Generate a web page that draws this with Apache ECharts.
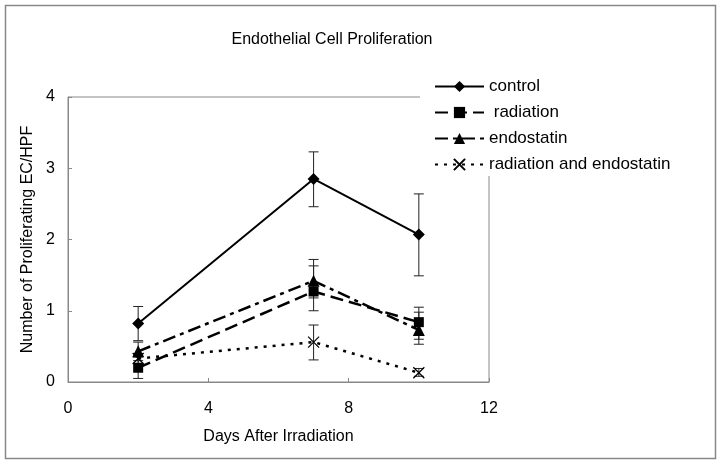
<!DOCTYPE html>
<html>
<head>
<meta charset="utf-8">
<script src="https://cdn.jsdelivr.net/npm/echarts@6/dist/echarts.min.js"></script>
<style>html,body{margin:0;padding:0;background:#fff}#c{width:726px;height:466px}</style>
</head>
<body>
<div id="c"></div>
<script>
const days = [2, 7, 10];
const xTicks = [0, 4, 8, 12];
const yTicks = [0, 1, 2, 3, 4];

const control = [0.82, 2.85, 2.07];
const controlHi = [1.06, 3.23, 2.64];
const controlLo = [0.58, 2.46, 1.49];

const radiation = [0.2, 1.27, 0.84];
const radiationHi = [0.35, 1.63, 0.98];
const radiationLo = [0.05, 1.0, 0.6];

const endostatin = [0.43, 1.42, 0.73];
const endostatinHi = [0.56, 1.72, 1.05];
const endostatinLo = [0.3, 1.18, 0.53];

const radEndo = [0.33, 0.56, 0.13];
const radEndoHi = [0.4, 0.8, 0.19];
const radEndoLo = [0.26, 0.31, 0.08];

const names = ['control', ' radiation', 'endostatin', 'radiation and endostatin'];

const pairs = (ys) => days.map((d, i) => [d, ys[i]]);
const errData = (lo, hi) => days.map((d, i) => [d, lo[i], hi[i]]);

function errSeries(name, lo, hi) {
  return {
    type: 'custom',
    name: name,
    z: 1,
    data: errData(lo, hi),
    renderItem: function (params, api) {
      const x = api.value(0);
      const pTop = api.coord([x, api.value(2)]);
      const pBot = api.coord([x, api.value(1)]);
      const w = 5;
      const style = { stroke: '#222', lineWidth: 1 };
      return {
        type: 'group',
        children: [
          { type: 'line', shape: { x1: pTop[0], y1: pTop[1], x2: pBot[0], y2: pBot[1] }, style: style },
          { type: 'line', shape: { x1: pTop[0] - w, y1: pTop[1], x2: pTop[0] + w, y2: pTop[1] }, style: style },
          { type: 'line', shape: { x1: pBot[0] - w, y1: pBot[1], x2: pBot[0] + w, y2: pBot[1] }, style: style }
        ]
      };
    }
  };
}

const font = 'Liberation Sans, Arial, sans-serif';
const chart = echarts.init(document.getElementById('c'), null, { renderer: 'canvas' });
chart.setOption({
  animation: false,
  backgroundColor: '#fff',
  title: {
    text: 'Endothelial Cell Proliferation',
    left: 327, top: 27, textAlign: 'center',
    textStyle: { fontFamily: font, fontSize: 16, fontWeight: 'normal', color: '#000' }
  },
  graphic: [{
    type: 'rect', z: -10, silent: true,
    shape: { x: 5.5, y: 5.5, width: 710, height: 453 },
    style: { fill: 'none', stroke: '#888', lineWidth: 1.5 }
  }],
  legend: {
    data: names,
    orient: 'vertical',
    left: 420, top: 70,
    padding: [8, 40, 3, 14],
    itemWidth: 49, itemHeight: 14, itemGap: 9,
    backgroundColor: '#fff',
    z: 10,
    textStyle: { fontFamily: font, fontSize: 17, color: '#000', padding: [0, 0, 0, 0] }
  },
  grid: {
    left: 68, right: 237, top: 97, bottom: 84,
    show: true, borderColor: '#888', borderWidth: 1, backgroundColor: 'transparent'
  },
  xAxis: {
    type: 'value', min: 0, max: 12, interval: 4,
    name: 'Days After Irradiation', nameLocation: 'middle', nameGap: 47,
    nameTextStyle: { fontFamily: font, fontSize: 16, color: '#000' },
    axisLine: { lineStyle: { color: '#888', width: 1 } },
    axisTick: { inside: true, length: 4, lineStyle: { color: '#888' } },
    axisLabel: { fontFamily: font, fontSize: 16, color: '#000', margin: 19 },
    splitLine: { show: false }
  },
  yAxis: {
    type: 'value', min: 0, max: 4, interval: 1,
    name: 'Number of Proliferating EC/HPF', nameLocation: 'middle', nameGap: 30,
    nameTextStyle: { fontFamily: font, fontSize: 16, color: '#000' },
    axisLine: { show: true, lineStyle: { color: '#888', width: 1 } },
    axisTick: { show: true, inside: true, length: 4, lineStyle: { color: '#888' } },
    axisLabel: { fontFamily: font, fontSize: 16, color: '#000', margin: 13 },
    splitLine: { show: false }
  },
  series: [
    errSeries('e1', controlLo, controlHi),
    errSeries('e2', radiationLo, radiationHi),
    errSeries('e3', endostatinLo, endostatinHi),
    errSeries('e4', radEndoLo, radEndoHi),
    {
      name: names[0], type: 'line', data: pairs(control), z: 3,
      symbol: 'diamond', symbolSize: 12,
      lineStyle: { color: '#000', width: 2, type: 'solid' },
      itemStyle: { color: '#000' }
    },
    {
      name: names[1], type: 'line', data: pairs(radiation), z: 3,
      symbol: 'rect', symbolSize: 10,
      lineStyle: { color: '#000', width: 2.5, type: [13, 6] },
      itemStyle: { color: '#000' }
    },
    {
      name: names[2], type: 'line', data: pairs(endostatin), z: 3,
      symbol: 'triangle', symbolSize: 12,
      lineStyle: { color: '#000', width: 2.5, type: [13, 5, 4, 5] },
      itemStyle: { color: '#000' }
    },
    {
      name: names[3], type: 'line', data: pairs(radEndo), z: 3,
      symbol: 'path://M0,0L10,10M10,0L0,10', symbolSize: 11,
      lineStyle: { color: '#000', width: 2.5, type: [3, 6] },
      itemStyle: { color: 'transparent', borderColor: '#000', borderWidth: 1.2 }
    }
  ]
});
</script>
</body>
</html>
